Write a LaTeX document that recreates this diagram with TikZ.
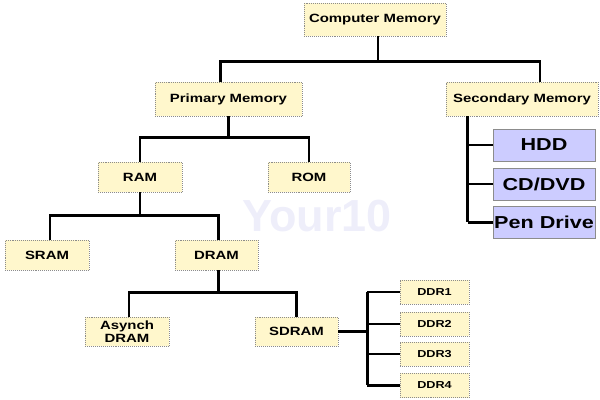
\documentclass[tikz,border=0pt]{standalone}
\usepackage{fontspec}
\setmainfont[FakeStretch=1.25]{Liberation Sans}
\newfontfamily\markfont{Liberation Sans}
\usetikzlibrary{calc}
\definecolor{boxfill}{HTML}{FFF7CC}
\definecolor{boxline}{HTML}{8C8C8C}
\definecolor{mediafill}{HTML}{CCCCFF}
\definecolor{markcolor}{HTML}{EEEEFA}

\begin{document}
\begin{tikzpicture}[x=0.025cm, y=-0.025cm,
    memory/.style={draw=boxline, densely dotted, fill=boxfill, inner sep=0pt,
      minimum height=0.75cm, align=center,
      font=\bfseries\fontsize{8.5}{10}\selectfont},
    ddrbox/.style={memory, minimum width=1.725cm, minimum height=0.6cm,
      font=\bfseries\fontsize{7.2}{8}\selectfont},
    media/.style={draw=boxline, fill=mediafill, inner sep=0pt,
      minimum width=2.55cm, minimum height=0.8cm,
      font=\bfseries\fontsize{12.3}{14}\selectfont},
    link/.style={line width=2.1pt}]
  \useasboundingbox (0,0) rectangle (600,400);
  \node[text=markcolor, font=\markfont\bfseries\fontsize{32}{36}\selectfont] (mark) at (317,216) {Your10};

  \node[memory, minimum width=3.55cm, minimum height=0.825cm] (cm) at (375,19.5) {Computer Memory};
  \node[memory, minimum width=3.675cm, minimum height=0.85cm] (pm) at (228.5,99) {Primary Memory};
  \node[memory, minimum width=3.8cm, minimum height=0.85cm] (sm) at (522,99) {Secondary Memory};
  \node[memory, minimum width=2.1cm] (ram) at (140,177) {RAM};
  \node[memory, minimum width=2.05cm] (rom) at (309,177) {ROM};
  \node[memory, minimum width=2.1cm] (sram) at (47,255) {SRAM};
  \node[memory, minimum width=2.075cm] (dram) at (216.5,255) {DRAM};
  \node[memory, minimum width=2.1cm, minimum height=0.725cm] (async) at (127,331.5) {Asynch\\[-1pt]DRAM};
  \node[memory, minimum width=2.075cm, minimum height=0.725cm] (sdram) at (296.5,331.5) {SDRAM};
  \node[ddrbox] (ddr1) at (434.5,292) {DDR1};
  \node[ddrbox] (ddr2) at (434.5,324) {DDR2};
  \node[ddrbox] (ddr3) at (434.5,354) {DDR3};
  \node[ddrbox] (ddr4) at (434.5,385.5) {DDR4};
  \node[media] (hdd) at (544,145) {HDD};
  \node[media] (cd) at (544,184) {CD/DVD};
  \node[media] (pen) at (544,222.5) {Pen Drive};

  \draw[link] ([xshift=0.075cm]cm.south) -- ++(0,25) coordinate (b1);
  \draw[link] ([xshift=-0.19cm]pm.north) |- (b1) -| ([xshift=0.45cm]sm.north);
  \draw[link] (pm.south) -- ++(0,21) coordinate (b2);
  \draw[link] (ram.north) |- (b2) -| (rom.north);
  \draw[link] (ram.south) -- ++(0,23) coordinate (b3);
  \draw[link] ([xshift=0.075cm]sram.north) |- (b3) -| ([xshift=0.04cm]dram.north);
  \draw[link] ([xshift=0.04cm]dram.south) -- ++(0,22) coordinate (b4);
  \draw[link] ([xshift=0.05cm]async.north) |- (b4) -| (sdram.north);
  \draw[link] (sdram.east) -- ++(29,0) coordinate (b5);
  \draw[link] (b5 |- ddr1.west) -- (b5 |- ddr4.west);
  \foreach \d in {ddr1,ddr2,ddr3,ddr4}
    \draw[link] (b5 |- \d.west) -- (\d.west);
  \draw[link] ([xshift=0.55cm]sm.south west) coordinate (b6) -- (b6 |- pen.west);
  \foreach \d in {hdd,cd,pen}
    \draw[link] (b6 |- \d.west) -- (\d.west);
\end{tikzpicture}
\end{document}
